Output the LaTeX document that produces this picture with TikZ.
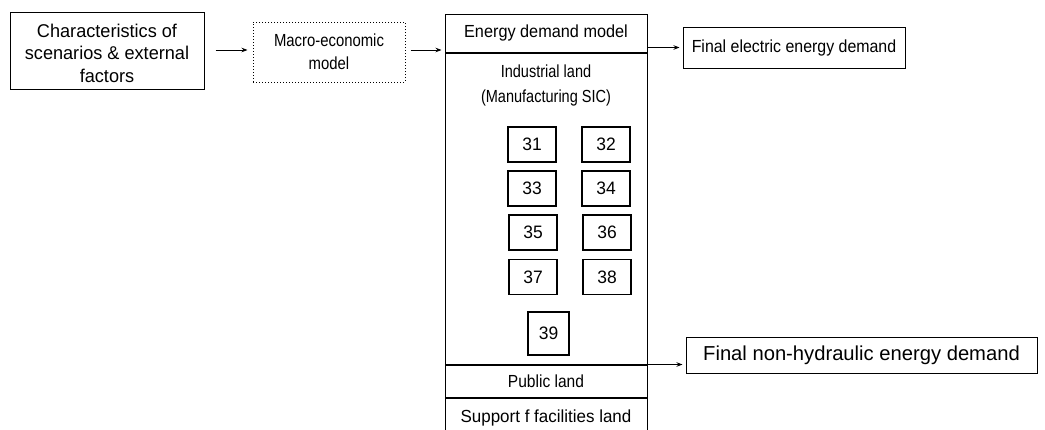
\documentclass[tikz,border=0pt]{standalone}
\usepackage{fontspec}
\setmainfont{Liberation Sans}
\usetikzlibrary{arrows.meta}
\newcommand{\cf}[3]{\fontsize{#1}{#3}\addfontfeatures{FakeStretch=#2}\selectfont}
\begin{document}
\begin{tikzpicture}[x=1pt,y=-1pt,
  every node/.style={inner sep=0pt, align=center},
  box/.style={draw, line width=1pt, rectangle},
  dotbox/.style={draw, dotted, line width=1pt, rectangle},
  sic/.style={draw, line width=1.2pt, minimum width=48, minimum height=35, font=\cf{18}{0.97}{20}},
  arr/.style={line width=0.8pt, -{Stealth[length=6pt,width=4.5pt]}},
  sect/.style={draw, line width=1pt, minimum width=202}
]
\clip (0,0) rectangle (1045,429);
% left boxes
\node[box, minimum width=194, minimum height=77] (chars) at (107,50.5) {};
\node[font=\cf{18.5}{0.98}{22.5}] (charstxt) at (107,53)
  {Characteristics of\\scenarios \& external\\factors};
\node[dotbox, minimum width=152, minimum height=60, font=\cf{17.5}{0.85}{23}] (macro) at (329,52)
  {Macro-economic\\model};
% main column
\node[sect, minimum height=38, font=\cf{17.5}{0.93}{20}] (energy) at (546,33) {Energy demand model};
\node[sect, minimum height=311, anchor=north] (indus) at (energy.south) {};
\node[font=\cf{17.5}{0.83}{25}] (indtxt) at (546,85) {Industrial land\\(Manufacturing SIC)};
\node[sect, minimum height=32, anchor=north, font=\cf{17.5}{0.89}{20}] (public) at (indus.south) {Public land};
\node[sect, minimum height=60, anchor=north] (support) at (public.south) {};
\node[font=\cf{17.5}{0.97}{20}] (suptxt) at (546,418) {Support f facilities land};
% SIC boxes
\node[sic] (s31) at (532,144.5) {31};
\node[sic] (s32) at (606,144.5) {32};
\node[sic] (s33) at (532,188.5) {33};
\node[sic] (s34) at (606,188.5) {34};
\node[sic] (s35) at (533,232.5) {35};
\node[sic] (s36) at (607,232.5) {36};
\node[sic] (s37) at (533,277) {37};
\node[sic] (s38) at (607,277) {38};
\node[sic, minimum width=41, minimum height=43] (s39) at (548.5,333.5) {39};
% right boxes
\node[box, minimum width=222, minimum height=41, font=\cf{17.5}{0.91}{20}] (felec) at (794,47.5) {Final electric energy demand};
\node[box, minimum width=351, minimum height=36, font=\cf{20.2}{1.0}{22}] (fnon) at (861.5,355) {Final non-hydraulic energy demand};
% connectors
\draw[arr, shorten <=11, shorten >=5] (chars.east |- 0,50) -- (macro.west |- 0,50);
\draw[arr, shorten <=5, shorten >=3] (macro.east |- 0,50) -- (energy.west |- 0,50);
\draw[arr, shorten >=3] (felec.west -| energy.east) -- (felec.west);
\draw[arr, shorten >=3] (public.north east) -- (public.north east -| fnon.west);
\end{tikzpicture}
\end{document}
